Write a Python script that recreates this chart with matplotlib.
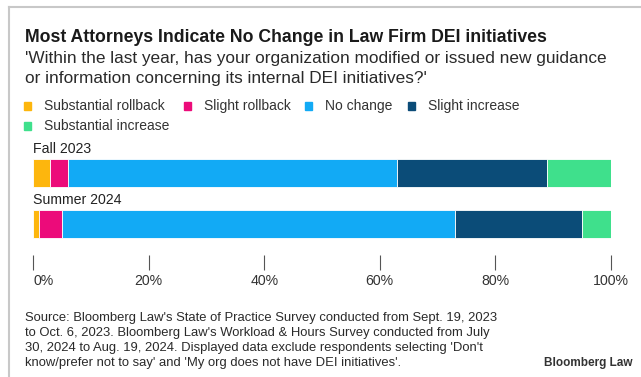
import matplotlib.pyplot as plt
from matplotlib.patches import Rectangle
from matplotlib.lines import Line2D
from matplotlib.transforms import ScaledTranslation

# Survey waves and response shares (%)
waves = ['Fall 2023', 'Summer 2024']
responses = ['Substantial rollback', 'Slight rollback', 'No change',
             'Slight increase', 'Substantial increase']
substantial_rollback = [3, 1]
slight_rollback = [3, 4]
no_change = [57, 68]
slight_increase = [26, 22]
substantial_increase = [11, 5]

colors = ['#FDB60D', '#EC0B7A', '#12AAF5', '#0B4C78', '#3FE08C']
tick_values = [0, 20, 40, 60, 80, 100]

plt.rcParams['font.family'] = ['Liberation Sans', 'DejaVu Sans']

W, H = 641, 377
fig = plt.figure(figsize=(W / 100, H / 100), dpi=100)


def fx(px):
    return px / W


def fy(py):
    return 1 - py / H


# thin frame on the top and left edges
fig.add_artist(Line2D([fx(9), fx(641)], [fy(7), fy(7)], color='#c8c8c8', lw=1.5))
fig.add_artist(Line2D([fx(9), fx(9)], [fy(7), fy(377)], color='#c8c8c8', lw=1.5))

fig.text(fx(25), fy(38), 'Most Attorneys Indicate No Change in Law Firm DEI initiatives',
         fontsize=12.7, fontweight='bold', color='#1a1a1a', va='center')
fig.text(fx(25), fy(58), "'Within the last year, has your organization modified or issued new guidance",
         fontsize=12.4, color='#2a2a2a', va='center')
fig.text(fx(25), fy(78), "or information concerning its internal DEI initiatives?'",
         fontsize=12.4, color='#2a2a2a', va='center')

# legend: two rows of colored squares and labels
legend_pos = [(24, 106), (184, 106), (305, 106), (408, 106), (24, 126)]
for (lx, ly), label, c in zip(legend_pos, responses, colors):
    fig.add_artist(Rectangle((fx(lx), fy(ly + 4)), 7 / W, 8 / H, color=c,
                             transform=fig.transFigure))
    fig.text(fx(lx + 20), fy(ly), label, fontsize=10, color='#333333', va='center')

ax = fig.add_axes([fx(33), fy(255), fx(611) - fx(33), (255 - 150) / H])
series = [substantial_rollback, slight_rollback, no_change, slight_increase, substantial_increase]
left = [0] * len(waves)
for vals, c in zip(series, colors):
    ax.barh(range(len(waves)), vals, left=left, height=0.54, color=c,
            edgecolor='white', linewidth=0.6)
    left = [a + b for a, b in zip(left, vals)]

for i, w in enumerate(waves):
    ax.text(0, i - 0.33, w, fontsize=10.2, color='#222222', ha='left', va='bottom')

ax.set_xlim(0, 100)
ax.set_ylim(1.61, -0.45)
ax.set_yticks([])
ax.set_xticks(tick_values)
labels = ax.set_xticklabels([f'{v}%' for v in tick_values], fontsize=10.2, color='#333333')
labels[0].set_horizontalalignment('left')
labels[0].set_transform(labels[0].get_transform() + ScaledTranslation(-3 / 100, 0, fig.dpi_scale_trans))
labels[-1].set_transform(labels[-1].get_transform() + ScaledTranslation(-4 / 100, 0, fig.dpi_scale_trans))
ax.tick_params(axis='x', length=11, width=0.8, color='#555555', pad=3)
for s in ax.spines.values():
    s.set_visible(False)

source = ("Source: Bloomberg Law's State of Practice Survey conducted from Sept. 19, 2023\n"
          "to Oct. 6, 2023. Bloomberg Law's Workload & Hours Survey conducted from July\n"
          "30, 2024 to Aug. 19, 2024. Displayed data exclude respondents selecting 'Don't\n"
          "know/prefer not to say' and 'My org does not have DEI initiatives'.")
fig.text(fx(25), fy(312), source, fontsize=9.4, color='#2a2a2a', va='top', linespacing=1.33)
fig.text(fx(632), fy(363), 'Bloomberg Law', fontsize=8.5, fontweight='bold',
         color='#333333', ha='right', va='center')

fig.savefig('out.png', dpi=100, facecolor='white')
